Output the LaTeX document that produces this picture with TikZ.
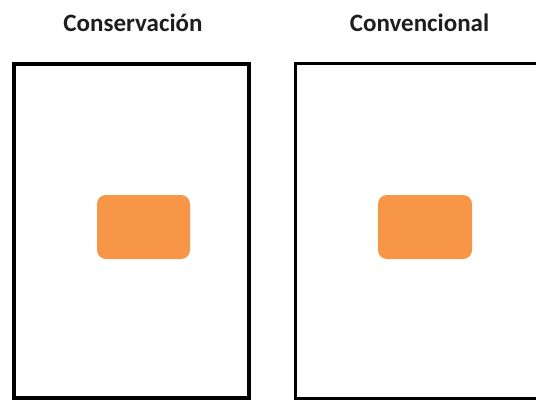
\documentclass[tikz,border=0pt]{standalone}
\usepackage{fontspec}
\setmainfont{Carlito}
\definecolor{offorange}{HTML}{F79646}
\definecolor{titlegray}{HTML}{1E1E1E}
\begin{document}
\begin{tikzpicture}[x=1pt,y=-1pt,
  frame/.style={draw=black, fill=white, inner sep=0pt},
  block/.style={fill=offorange, rounded corners=9pt, inner sep=0pt, minimum width=93pt, minimum height=64pt},
  title/.style={font=\fontsize{25}{28}\selectfont\bfseries, text=titlegray, inner sep=0pt}]
\useasboundingbox (0,0) rectangle (536,402);
\fill[white] (0,0) rectangle (536,402);
\node[title] (t1) at (133,23) {Conservación};
\node[title] (t2) at (419.5,23) {Convencional};
\node[frame, line width=4pt, minimum width=235pt, minimum height=334.5pt] (f1) at (131.5,230.75) {};
\node[frame, line width=3pt, minimum width=254.5pt, minimum height=334.5pt] (f2) at (422.75,230.75) {};
\node[block] (b1) at (143.5,227) {};
\node[block, minimum width=94pt] (b2) at (425,227) {};
\end{tikzpicture}
\end{document}
